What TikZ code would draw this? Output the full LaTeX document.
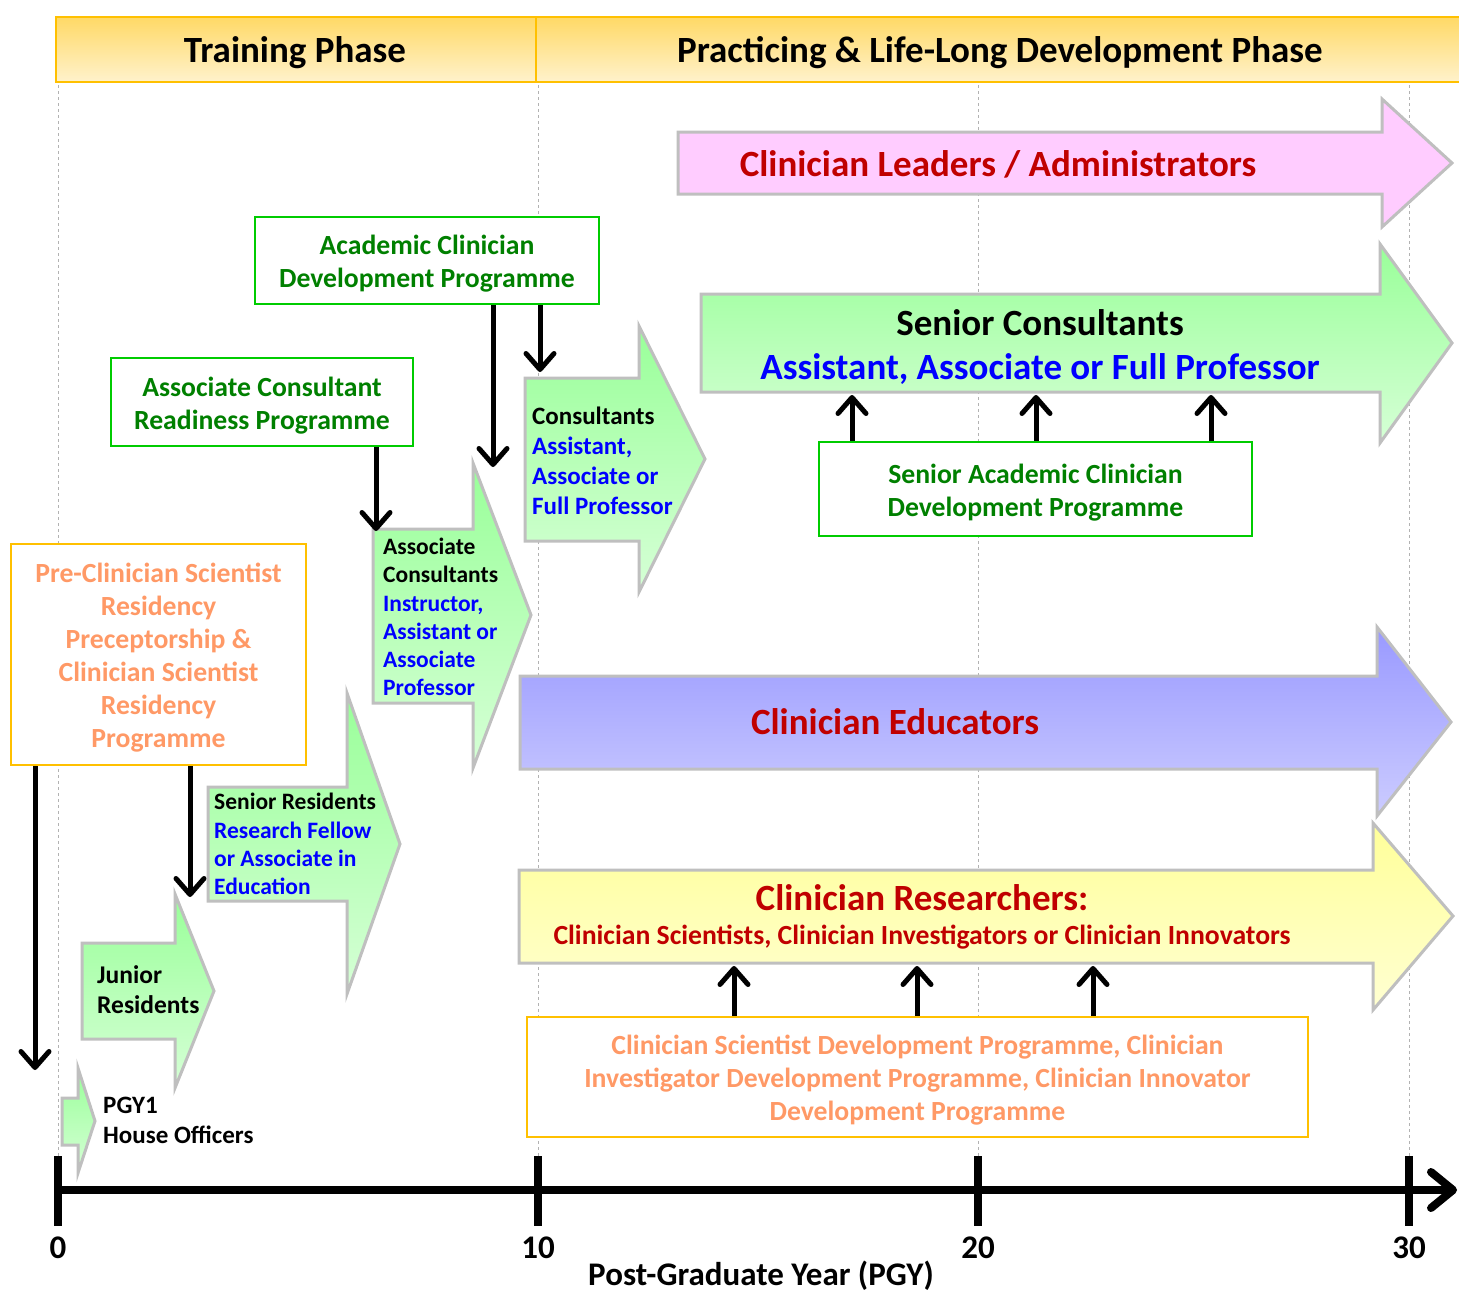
\documentclass[tikz,border=0pt]{standalone}
\usepackage{fontspec}
\setmainfont{Carlito}
\usepackage{tikz}
\usetikzlibrary{arrows.meta}
\usetikzlibrary{calc}

\definecolor{hdrline}{RGB}{255,192,0}
\definecolor{hdrtop}{RGB}{255,217,102}
\definecolor{hdrbot}{RGB}{255,242,204}
\definecolor{arrline}{RGB}{191,191,191}
\definecolor{darkred}{RGB}{192,0,0}
\definecolor{profblue}{RGB}{0,0,255}
\definecolor{boxgreen}{RGB}{0,204,0}
\definecolor{txtgreen}{RGB}{0,128,0}
\definecolor{salmon}{RGB}{255,153,102}
\definecolor{greentop}{RGB}{153,255,153}
\definecolor{greenbot}{RGB}{214,255,214}
\definecolor{pinkfill}{RGB}{255,204,255}
\definecolor{bluetop}{RGB}{153,153,255}
\definecolor{bluebot}{RGB}{204,204,255}
\definecolor{yeltop}{RGB}{255,255,153}
\definecolor{yelbot}{RGB}{255,255,210}

\newcommand{\topgap}{\rule{0pt}{26pt}}

\begin{document}
\begin{tikzpicture}[x=1pt, y=-1pt,
        blockarrow/.style={draw=arrline, line width=3pt, line join=miter},
        greenarrow/.style={blockarrow, top color=greentop, bottom color=greenbot},
        greenbox/.style={draw=boxgreen, line width=2.5pt, fill=white, text=txtgreen, align=center, font=\bfseries\fontsize{27.7}{33}\selectfont},
        orangebox/.style={greenbox, draw=hdrline, text=salmon},
        steptext/.style={anchor=west, align=left, inner sep=0pt, font=\bfseries\fontsize{23.5}{28.2}\selectfont},
        bigtext/.style={align=center, font=\bfseries\fontsize{37}{44}\selectfont},
        axislabel/.style={font=\bfseries\fontsize{33}{38}\selectfont},
        conn/.style={line width=5pt, -{Straight Barb[length=16pt,width=28pt,round]}},
        gridline/.style={dashed, gray!60, line width=1pt}]
        \useasboundingbox (0,0) rectangle (1459,1293);

        \foreach \x in {58,538,978,1409}
            \draw[gridline] (\x,85) -- (\x,1158);

        \draw[draw=hdrline, line width=2.5pt, top color=hdrtop, bottom color=hdrbot] (56,17) rectangle (1465,82);
        \draw[hdrline, line width=2pt] (536,17) -- (536,82);
        \node[bigtext] (trainhead) at (295,53) {Training Phase};
        \node[bigtext] (practhead) at (1000,53) {Practicing \& Life-Long Development Phase};

        \draw[blockarrow, fill=pinkfill] (678,132) -- (1382,132) -- (1382,99) -- (1452,163) -- (1382,227) -- (1382,194) -- (678,194) -- cycle;
        \draw[greenarrow] (701,294) -- (1380,294) -- (1380,244) -- (1452,343) -- (1380,443) -- (1380,392) -- (701,392) -- cycle;
        \draw[greenarrow] (525,378) -- (639,378) -- (639,326) -- (705,459) -- (639,592) -- (639,541) -- (525,541) -- cycle;
        \draw[greenarrow] (373,529) -- (473,529) -- (473,463) -- (531,615) -- (473,768) -- (473,703) -- (373,703) -- cycle;
        \draw[greenarrow] (208,787) -- (347,787) -- (347,693) -- (400,844) -- (347,994) -- (347,901) -- (208,901) -- cycle;
        \draw[greenarrow] (82,943) -- (175,943) -- (175,894) -- (214,991) -- (175,1088) -- (175,1039) -- (82,1039) -- cycle;
        \draw[greenarrow] (62,1098) -- (78,1098) -- (78,1068) -- (95,1121) -- (78,1173) -- (78,1145) -- (62,1145) -- cycle;
        \draw[blockarrow, top color=bluetop, bottom color=bluebot] (520,676) -- (1377,676) -- (1377,627) -- (1451,722) -- (1377,816) -- (1377,769) -- (520,769) -- cycle;
        \draw[blockarrow, top color=yeltop, bottom color=yelbot] (519,870) -- (1373,870) -- (1373,823) -- (1453,916) -- (1373,1010) -- (1373,963) -- (519,963) -- cycle;

        \node[bigtext, text=darkred] (leaders) at (998,164) {Clinician Leaders / Administrators};
        \node[bigtext] (seniorcons) at (1040,347) {Senior Consultants\\\textcolor{profblue}{Assistant, Associate or Full Professor}};
        \node[steptext, font=\bfseries\fontsize{25}{30}\selectfont] (cons) at (532,461) {Consultants\\\textcolor{profblue}{Assistant,}\\\textcolor{profblue}{Associate or}\\\textcolor{profblue}{Full Professor}};
        \node[steptext] (asscons) at (383,617) {Associate\\Consultants\\\textcolor{profblue}{Instructor,}\\\textcolor{profblue}{Assistant or}\\\textcolor{profblue}{Associate}\\\textcolor{profblue}{Professor}};
        \node[steptext] (seniorres) at (214,844) {Senior Residents\\\textcolor{profblue}{Research Fellow}\\\textcolor{profblue}{or Associate in}\\\textcolor{profblue}{Education}};
        \node[steptext, font=\bfseries\fontsize{25.5}{30}\selectfont] (juniorres) at (97,990) {Junior\\Residents};
        \node[steptext, font=\bfseries\fontsize{25}{30}\selectfont] (houseoff) at (103,1120) {PGY1\\House Officers};
        \node[bigtext, text=darkred] (educators) at (895,722) {Clinician Educators};
        \node[bigtext, text=darkred] (researchers) at (922,898) {Clinician Researchers:};
        \node[text=darkred, font=\bfseries\fontsize{27.7}{33}\selectfont] (researchtypes) at (922,937) {Clinician Scientists, Clinician Investigators or Clinician Innovators};

        \node[greenbox, minimum width=344pt, minimum height=87pt] (acdp) at (427,260.5) {\topgap Academic Clinician\\Development Programme};
        \node[greenbox, minimum width=302pt, minimum height=88pt] (acrp) at (262,402) {\topgap Associate Consultant\\Readiness Programme};
        \node[orangebox, minimum width=295pt, minimum height=221pt] (precs) at (158.5,654.5) {\topgap Pre-Clinician Scientist\\Residency\\Preceptorship \&\\Clinician Scientist\\Residency\\Programme};
        \node[greenbox, minimum width=433pt, minimum height=94pt] (sacdp) at (1035.5,489) {\topgap Senior Academic Clinician\\Development Programme};
        \node[orangebox, minimum width=781pt, minimum height=120pt] (csdp) at (917.5,1077) {\topgap Clinician Scientist Development Programme, Clinician\\Investigator Development Programme, Clinician Innovator\\Development Programme};

        \coordinate (asscin) at (493,467);
        \coordinate (consin) at (540,372);
        \coordinate (acrpin) at (376,531);
        \coordinate (hoin) at (35,1070);
        \coordinate (jrin) at (190,897);
        \coordinate (sc1) at (852,395);
        \coordinate (sc2) at (1036,395);
        \coordinate (sc3) at (1211,395);
        \coordinate (cr1) at (734,966);
        \coordinate (cr2) at (917,966);
        \coordinate (cr3) at (1093,966);

        \draw[conn] (acdp.south -| asscin) -- (asscin);
        \draw[conn] (acdp.south -| consin) -- (consin);
        \draw[conn] (acrp.south -| acrpin) -- (acrpin);
        \draw[conn] (precs.south -| hoin) -- (hoin);
        \draw[conn] (precs.south -| jrin) -- (jrin);
        \foreach \c in {sc1,sc2,sc3}
            \draw[conn] (sacdp.north -| \c) -- (\c);
        \foreach \c in {cr1,cr2,cr3}
            \draw[conn] (csdp.north -| \c) -- (\c);

        \coordinate (origin) at (58,1190);
        \coordinate (axisend) at (1457,1190);
        \draw[line width=8pt, -{Straight Barb[length=22pt,width=36pt,round]}] (origin) -- (axisend);
        \foreach \x/\lab in {58/0,538/10,978/20,1409/30} {
            \draw[line width=8pt] (\x,1156) -- (\x,1226);
            \node[axislabel] (tick\lab) at (\x,1248) {\lab};
        }
        \node[axislabel] (pgylabel) at (761,1276) {Post-Graduate Year (PGY)};
    \end{tikzpicture}
\end{document}
